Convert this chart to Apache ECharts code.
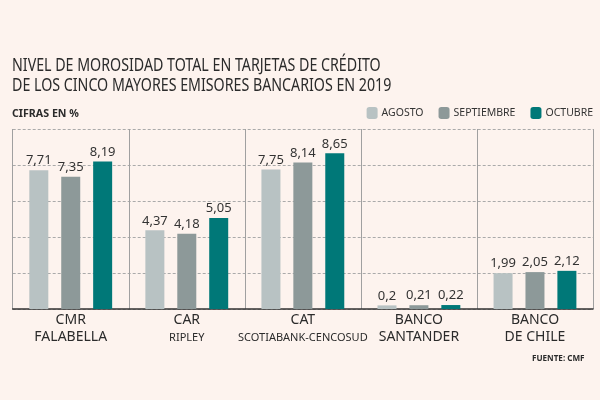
<!DOCTYPE html>
<html>
<head>
<meta charset="utf-8">
<script src="https://cdn.jsdelivr.net/npm/echarts@6/dist/echarts.min.js"></script>
<style>
  html, body { margin: 0; padding: 0; background: #fdf3ee; }
  #chart { width: 600px; height: 400px; }
</style>
</head>
<body>
<div id="chart"></div>
<script>
// datos
var categories = ['CMR\nFALABELLA', 'CAR\n{s|RIPLEY}', 'CAT\n{s|SCOTIABANK-CENCOSUD}', 'BANCO\nSANTANDER', 'BANCO\nDE CHILE']
var agosto = [7.71, 4.37, 7.75, 0.2, 1.99]
var septiembre = [7.35, 4.18, 8.14, 0.21, 2.05]
var octubre = [8.19, 5.05, 8.65, 0.22, 2.12]

var font = '"Noto Sans", sans-serif'

var chart = echarts.init(document.getElementById('chart'))

function barSeries (name, data, color) {
  return {
    name: name,
    type: 'bar',
    data: data,
    barWidth: 19,
    barGap: '68%',
    itemStyle: { color: color },
    label: {
      show: true,
      position: 'top',
      distance: 3,
      color: '#333',
      fontFamily: font,
      fontSize: 13,
      formatter: function (p) {
        return String(p.value).replace('.', ',')
      }
    }
  }
}

// textos condensados (la fuente original es estrecha)
function narrowText (text, x, y, size, weight, sx) {
  return {
    type: 'text',
    x: x,
    y: y,
    scaleX: sx,
    style: {
      text: text,
      fontFamily: font,
      fontSize: size,
      fontWeight: weight,
      fill: '#2b2b2b',
      lineHeight: 20
    }
  }
}

var option = {
  backgroundColor: '#fdf3ee',
  textStyle: { fontFamily: font },
  graphic: [
    narrowText('NIVEL DE MOROSIDAD TOTAL EN TARJETAS DE CRÉDITO\nDE LOS CINCO MAYORES EMISORES BANCARIOS EN 2019', 12, 56, 18, 'normal', 0.79),
    narrowText('CIFRAS EN %', 12, 104, 11, 'bold', 0.97),
    narrowText('FUENTE: CMF', 532, 348, 9, 'bold', 0.9)
  ],
  legend: {
    right: 7,
    top: 107,
    padding: 0,
    itemWidth: 11,
    itemHeight: 12,
    itemGap: 15,
    textStyle: { fontFamily: font, fontSize: 10.5, color: '#333', padding: [0, 0, 0, -1] },
    data: ['AGOSTO', 'SEPTIEMBRE', 'OCTUBRE']
  },
  grid: { left: 12.7, right: 7, top: 129, bottom: 91 },
  xAxis: {
    type: 'category',
    data: categories,
    axisLine: { lineStyle: { color: '#333', width: 1.5 } },
    axisTick: { show: false },
    splitLine: { show: true, lineStyle: { color: '#a0a0a0', width: 1 } },
    axisLabel: {
      interval: 0,
      margin: 3,
      color: '#2b2b2b',
      fontFamily: font,
      fontSize: 14,
      lineHeight: 17,
      rich: {
        s: { fontFamily: font, fontSize: 11, lineHeight: 17, color: '#2b2b2b' }
      }
    }
  },
  yAxis: {
    type: 'value',
    min: 0,
    max: 10,
    interval: 2,
    axisLabel: { show: false },
    axisLine: { show: false },
    axisTick: { show: false },
    splitLine: { lineStyle: { color: '#aaa', type: [3, 2], width: 1 } }
  },
  series: [
    barSeries('AGOSTO', agosto, '#b8c2c3'),
    barSeries('SEPTIEMBRE', septiembre, '#8d9999'),
    barSeries('OCTUBRE', octubre, '#007878')
  ]
}

chart.setOption(option)
</script>
</body>
</html>
